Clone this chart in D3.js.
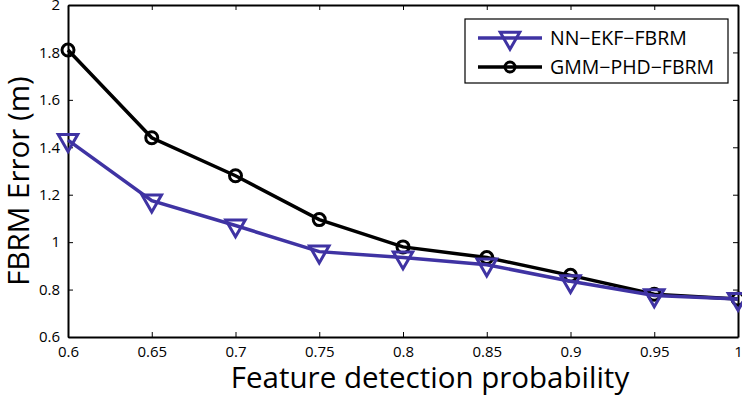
<!DOCTYPE html>
<html>
<head>
<meta charset="utf-8">
<script src="https://cdn.jsdelivr.net/npm/d3@7"></script>
<style>
  body { margin: 0; background: #fff; }
  text { font-family: "Open Sans", "Noto Sans", sans-serif; fill: #000; }
</style>
</head>
<body>
<svg id="chart" width="742" height="400"></svg>
<script>
const probabilities = [0.6, 0.65, 0.7, 0.75, 0.8, 0.85, 0.9, 0.95, 1];
const nnEkf = [1.43, 1.175, 1.07, 0.96, 0.935, 0.905, 0.835, 0.775, 0.76];
const gmmPhd = [1.81, 1.44, 1.28, 1.095, 0.98, 0.935, 0.86, 0.78, 0.76];
const xTicks = [0.6, 0.65, 0.7, 0.75, 0.8, 0.85, 0.9, 0.95, 1];
const yTicks = [0.6, 0.8, 1, 1.2, 1.4, 1.6, 1.8, 2];
const seriesNames = ["NN\u2212EKF\u2212FBRM", "GMM\u2212PHD\u2212FBRM"];

const margin = { top: 5, right: 4, bottom: 63, left: 68 };
const width = 742 - margin.left - margin.right;
const height = 400 - margin.top - margin.bottom;
const purple = "#3f33a3";

const svg = d3.select("#chart")
  .append("g")
    .attr("transform", `translate(${margin.left},${margin.top})`);

const x = d3.scaleLinear().domain([0.6, 1]).range([0, width]);
const y = d3.scaleLinear().domain([0.6, 2]).range([height, 0]);

const fmt = d => String(d);

// axes, ticks pointing inward
svg.append("g")
    .attr("transform", `translate(0,${height})`)
    .call(d3.axisBottom(x).tickValues(xTicks).tickFormat(fmt).tickSizeInner(-5).tickSizeOuter(0).tickPadding(9));
svg.append("g")
    .call(d3.axisLeft(y).tickValues(yTicks).tickFormat(fmt).tickSizeInner(-5).tickSizeOuter(0).tickPadding(8));
svg.append("g")
    .call(d3.axisTop(x).tickValues(xTicks).tickFormat("").tickSizeInner(-5).tickSizeOuter(0));
svg.append("g")
    .attr("transform", `translate(${width},0)`)
    .call(d3.axisRight(y).tickValues(yTicks).tickFormat("").tickSizeInner(-5).tickSizeOuter(0));

svg.selectAll(".domain").attr("stroke", "#000").attr("stroke-width", 2);
svg.selectAll(".tick line").attr("stroke", "#000").attr("stroke-width", 1);
svg.selectAll(".tick text").style("font-size", "15px");

const line = d3.line().x(d => x(d[0])).y(d => y(d[1]));
const triangle = d3.symbol().type(d3.symbolTriangle).size(165);

// GMM-PHD series
const gmmData = probabilities.map((p, i) => [p, gmmPhd[i]]);
svg.append("path")
    .datum(gmmData)
    .attr("fill", "none")
    .attr("stroke", "#000")
    .attr("stroke-width", 3.5)
    .attr("d", line);
svg.selectAll(".gmm")
    .data(gmmData)
  .enter().append("circle")
    .attr("class", "gmm")
    .attr("cx", d => x(d[0]))
    .attr("cy", d => y(d[1]))
    .attr("r", 6)
    .attr("fill", "none")
    .attr("stroke", "#000")
    .attr("stroke-width", 3);

// NN-EKF series
const nnData = probabilities.map((p, i) => [p, nnEkf[i]]);
svg.append("path")
    .datum(nnData)
    .attr("fill", "none")
    .attr("stroke", purple)
    .attr("stroke-width", 3.5)
    .attr("d", line);
svg.selectAll(".nn")
    .data(nnData)
  .enter().append("path")
    .attr("class", "nn")
    .attr("d", triangle)
    .attr("transform", d => `translate(${x(d[0])},${y(d[1])}) rotate(180)`)
    .attr("fill", "none")
    .attr("stroke", purple)
    .attr("stroke-width", 3);

// axis titles
svg.append("text")
    .attr("x", 430 - margin.left)
    .attr("y", 388 - margin.top)
    .attr("text-anchor", "middle")
    .style("font-size", "29.5px")
    .text("Feature detection probability");
svg.append("text")
    .attr("transform", `translate(${29 - margin.left},${181 - margin.top}) rotate(-90)`)
    .attr("text-anchor", "middle")
    .style("font-size", "29.5px")
    .text("FBRM Error (m)");

// legend
const legend = svg.append("g").attr("transform", "translate(397,14)");
legend.append("rect")
    .attr("width", 263)
    .attr("height", 64)
    .attr("fill", "#fff")
    .attr("stroke", "#000")
    .attr("stroke-width", 1.2);
const colors = [purple, "#000"];
seriesNames.forEach((name, i) => {
  const g = legend.append("g").attr("transform", `translate(0,${19 + i * 29})`);
  g.append("line")
      .attr("x1", 13).attr("x2", 77)
      .attr("stroke", colors[i])
      .attr("stroke-width", 3.5);
  if (i === 0) {
    g.append("path")
        .attr("d", triangle)
        .attr("transform", "translate(45,0) rotate(180)")
        .attr("fill", "none")
        .attr("stroke", purple)
        .attr("stroke-width", 3);
  } else {
    g.append("circle")
        .attr("cx", 45).attr("r", 5)
        .attr("fill", "none")
        .attr("stroke", "#000")
        .attr("stroke-width", 3);
  }
  g.append("text")
      .attr("x", 85)
      .attr("dy", "0.35em")
      .style("font-size", "19.5px")
      .text(name);
});
</script>
</body>
</html>
